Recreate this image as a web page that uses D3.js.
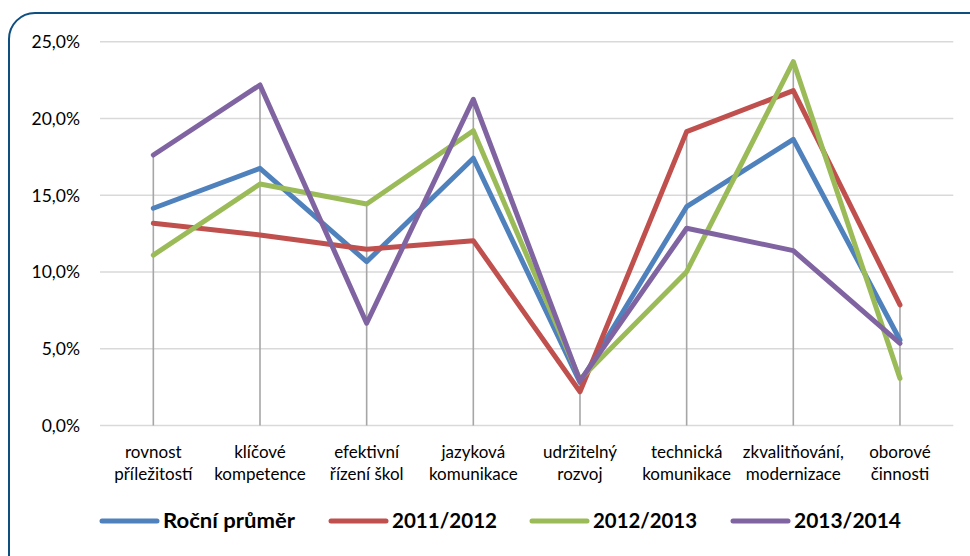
<!DOCTYPE html>
<html><head><meta charset="utf-8">
<script src="https://cdn.jsdelivr.net/npm/d3@7/dist/d3.min.js"></script>
<style>html,body{margin:0;padding:0;background:#fff;}svg{display:block;}</style>
</head><body>
<svg id="c" width="970" height="556"></svg>
<script>
const categories = [
  ["rovnost","příležitostí"],
  ["klíčové","kompetence"],
  ["efektivní","řízení škol"],
  ["jazyková","komunikace"],
  ["udržitelný","rozvoj"],
  ["technická","komunikace"],
  ["zkvalitňování,","modernizace"],
  ["oborové","činnosti"]
];
const seriesNames = ["Roční průměr","2011/2012","2012/2013","2013/2014"];
const rocniPrumer = [14.15, 16.75, 10.67, 17.41, 2.8, 14.25, 18.64, 5.57];
const s2011_2012  = [13.17, 12.41, 11.48, 12.04, 2.2, 19.14, 21.81, 7.85];
const s2012_2013  = [11.10, 15.73, 14.43, 19.20, 3.0, 10.02, 23.70, 3.07];
const s2013_2014  = [17.62, 22.18, 6.66, 21.25, 2.9, 12.85, 11.39, 5.35];
const yTicks = [0, 5, 10, 15, 20, 25];
const colors = ["#4f81bd","#c0504d","#9bbb59","#8064a2"];
const seriesValues = [rocniPrumer, s2011_2012, s2012_2013, s2013_2014];

(function(){
const svg = d3.select("#c");
const font = "Lato, 'Open Sans', sans-serif";

// frame
svg.append("rect").attr("x",9).attr("y",13).attr("width",990).attr("height",580)
  .attr("rx",26).attr("ry",26).attr("fill","none").attr("stroke","#0f4f7f").attr("stroke-width",2);

const pl = 100, pr = 953.3, pt = 41.7, pb = 425.5;
const x = d3.scaleBand().domain(d3.range(categories.length)).range([pl, pr]);
const y = d3.scaleLinear().domain([0, 25]).range([pb, pt]);
const cx = i => x(i) + x.bandwidth()/2;

// gridlines
svg.append("g").selectAll("line").data(yTicks).join("line")
  .attr("x1", pl).attr("x2", pr).attr("y1", d=>y(d)).attr("y2", d=>y(d))
  .attr("stroke","#d9d9d9").attr("stroke-width",1.5);

// y labels
svg.append("g").selectAll("text").data(yTicks).join("text")
  .attr("x", 80).attr("y", d=>y(d)).attr("dy","0.36em").attr("text-anchor","end")
  .attr("font-family",font).attr("font-size",17.5).attr("fill","#000")
  .text(d => d3.format(".1f")(d).replace(".", ",") + "%");

// drop lines
svg.append("g").selectAll("line").data(categories).join("line")
  .attr("x1",(d,i)=>cx(i)).attr("x2",(d,i)=>cx(i))
  .attr("y1",(d,i)=>y(d3.max(seriesValues, s=>s[i]))).attr("y2", pb)
  .attr("stroke","#a6a6a6").attr("stroke-width",1.6);

// series
const line = d3.line().x((d,i)=>cx(i)).y(d=>y(d));
svg.append("g").selectAll("path").data(seriesValues).join("path")
  .attr("d", d=>line(d)).attr("fill","none").attr("stroke",(d,i)=>colors[i])
  .attr("stroke-width",5).attr("stroke-linejoin","round").attr("stroke-linecap","round");

// category labels
const cl = svg.append("g");
categories.forEach((c,i)=>{
  c.forEach((t,j)=>{
    cl.append("text").attr("x",cx(i)).attr("y",452 + j*22).attr("dy","0.36em")
      .attr("text-anchor","middle").attr("font-family",font).attr("font-size",17)
      .attr("fill","#000").text(t);
  });
});

// legend
const legX = [102, 331, 532, 733];
const legTextW = [132, 105, 104, 107];
const lg = svg.append("g");
seriesNames.forEach((n,i)=>{
  lg.append("line").attr("x1",legX[i]).attr("x2",legX[i]+55).attr("y1",521).attr("y2",521)
    .attr("stroke",colors[i]).attr("stroke-width",5).attr("stroke-linecap","round");
  lg.append("text").attr("x",legX[i]+61).attr("y",521).attr("dy","0.36em")
    .attr("font-family",font).attr("font-weight","bold").attr("font-size",20)
    .attr("textLength",legTextW[i]).attr("lengthAdjust","spacingAndGlyphs")
    .attr("fill","#000").text(n);
});
})();
</script>
</body></html>
